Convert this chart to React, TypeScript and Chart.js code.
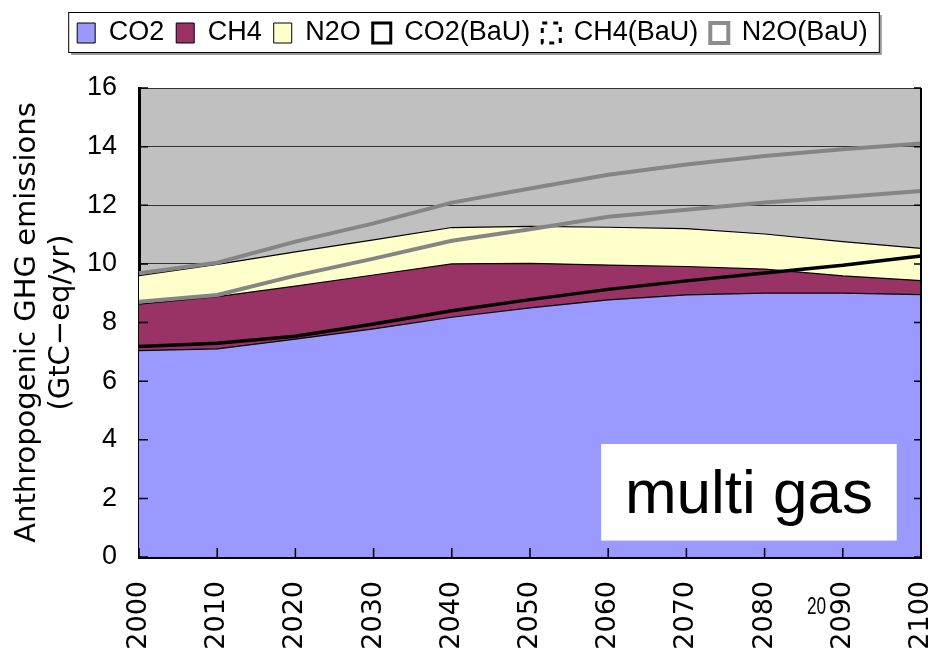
import React, { useEffect, useRef } from 'react';
import { Chart, registerables } from 'chart.js';

Chart.register(...registerables);

// ---- data ----
const years = ['2000', '2010', '2020', '2030', '2040', '2050', '2060', '2070', '2080', '2090', '2100'];
// multi-gas (policy) emissions, stacked areas (GtC-eq/yr)
const co2 = [7.04, 7.1, 7.43, 7.78, 8.18, 8.5, 8.77, 8.94, 9.0, 9.0, 8.95];
const ch4 = [1.59, 1.78, 1.81, 1.84, 1.82, 1.52, 1.19, 0.97, 0.82, 0.59, 0.48];
const n2o = [0.97, 1.1, 1.17, 1.2, 1.24, 1.26, 1.29, 1.29, 1.2, 1.17, 1.1];
// business-as-usual emissions, stacked lines (GtC-eq/yr)
const co2BaU = [7.18, 7.29, 7.53, 7.95, 8.4, 8.78, 9.13, 9.42, 9.69, 9.95, 10.27];
const ch4BaU = [1.53, 1.65, 2.07, 2.23, 2.39, 2.4, 2.48, 2.43, 2.4, 2.33, 2.22];
const n2oBaU = [0.97, 1.1, 1.16, 1.2, 1.3, 1.39, 1.43, 1.54, 1.59, 1.63, 1.62];
const yTicks = [0, 2, 4, 6, 8, 10, 12, 14, 16];
const seriesLabels = ['CO2', 'CH4', 'N2O', 'CO2(BaU)', 'CH4(BaU)', 'N2O(BaU)'];
const yTitle = ['Anthropogenic GHG emissions', '(GtC\u2212eq/yr)'];
const boxText = 'multi gas';
const pageNote = '20';

export default function App() {
  const ref = useRef<HTMLCanvasElement | null>(null);

  useEffect(() => {
    if (!ref.current) return;

    const legendFill = ['#9999FF', '#993366', '#FFFFCC', '#FFFFFF', '#FFFFFF', '#FFFFFF'];
    const legendStroke = ['#000', '#000', '#000', '#000', '#000', '#8C8C8C'];
    const legendLw = [1, 1, 1, 3, 3, 4];
    const legendDash: number[][] = [[], [], [], [], [5, 6], []];

    const bgPlugin = {
      id: 'plotBg',
      beforeDraw(chart: any) {
        const { ctx, chartArea: a } = chart;
        ctx.save();
        ctx.fillStyle = '#C0C0C0';
        ctx.fillRect(a.left, a.top, a.right - a.left, a.bottom - a.top);
        ctx.restore();
      },
    };

    const decorPlugin = {
      id: 'decor',
      afterDatasetsDraw(chart: any) {
        const { ctx, chartArea: a, scales } = chart;
        ctx.save();
        // inward tick marks
        ctx.strokeStyle = '#000';
        ctx.lineWidth = 1.5;
        ctx.beginPath();
        scales.y.ticks.forEach((t: any) => {
          const y = scales.y.getPixelForValue(t.value);
          ctx.moveTo(a.left, y);
          ctx.lineTo(a.left + 9, y);
          ctx.moveTo(a.right, y);
          ctx.lineTo(a.right - 7, y);
        });
        scales.x.ticks.forEach((_t: any, i: number) => {
          const x = scales.x.getPixelForTick(i);
          ctx.moveTo(x, a.bottom);
          ctx.lineTo(x, a.bottom - 9);
        });
        ctx.stroke();
        // right border
        ctx.lineWidth = 2;
        ctx.beginPath();
        ctx.moveTo(a.right, a.top);
        ctx.lineTo(a.right, a.bottom);
        ctx.stroke();
        // "multi gas" label box
        const w = a.right - a.left;
        const h = a.bottom - a.top;
        const bx = a.left + w * 0.591;
        const by = a.top + h * 0.759;
        const bw = w * 0.378;
        const bh = h * 0.206;
        ctx.fillStyle = '#FFFFFF';
        ctx.fillRect(bx, by, bw, bh);
        ctx.fillStyle = '#000';
        ctx.font = '62px "Liberation Sans", Arial, sans-serif';
        ctx.textAlign = 'center';
        ctx.textBaseline = 'alphabetic';
        ctx.fillText(boxText, bx + bw / 2, by + bh * 0.715);
        ctx.restore();
      },
      afterDraw(chart: any) {
        const { ctx } = chart;
        const lg = chart.legend;
        ctx.save();
        if (lg && lg.legendHitBoxes && lg.legendHitBoxes.length) {
          const hb = lg.legendHitBoxes;
          const first = hb[0];
          const last = hb[hb.length - 1];
          const left = first.left - 9;
          const right = last.left + last.width + 11;
          const top = first.top - 7.5;
          const bottom = first.top + first.height + 5.5;
          ctx.strokeStyle = '#9a9a9a';
          ctx.lineWidth = 2;
          ctx.beginPath();
          ctx.moveTo(left + 3, bottom + 2);
          ctx.lineTo(right + 2, bottom + 2);
          ctx.lineTo(right + 2, top + 3);
          ctx.stroke();
          ctx.strokeStyle = '#000';
          ctx.lineWidth = 1;
          ctx.strokeRect(left + 0.5, top + 0.5, right - left, bottom - top);
        }
        // stray page note
        ctx.fillStyle = '#000';
        ctx.font = '24px "Liberation Sans", Arial, sans-serif';
        ctx.textAlign = 'left';
        ctx.textBaseline = 'alphabetic';
        ctx.translate(807, 614);
        ctx.scale(0.72, 1);
        ctx.fillText(pageNote, 0, 0);
        ctx.restore();
      },
    };

    const areaCommon = {
      type: 'line' as const,
      borderColor: '#000',
      borderWidth: 1.2,
      pointRadius: 0,
      tension: 0,
      stack: 'policy',
      order: 1,
    };
    const bauCommon = {
      type: 'line' as const,
      pointRadius: 0,
      tension: 0,
      fill: false,
      stack: 'bau',
      order: 0,
    };

    const chart = new Chart(ref.current, {
      type: 'line',
      data: {
        labels: years,
        datasets: [
          { ...areaCommon, label: seriesLabels[0], data: co2, backgroundColor: '#9999FF', fill: 'origin' },
          { ...areaCommon, label: seriesLabels[1], data: ch4, backgroundColor: '#993366', fill: '-1' },
          { ...areaCommon, label: seriesLabels[2], data: n2o, backgroundColor: '#FFFFCC', fill: '-1' },
          { ...bauCommon, label: seriesLabels[3], data: co2BaU, borderColor: '#000', borderWidth: 3.5 },
          { ...bauCommon, label: seriesLabels[4], data: ch4BaU, borderColor: '#858585', borderWidth: 4 },
          { ...bauCommon, label: seriesLabels[5], data: n2oBaU, borderColor: '#858585', borderWidth: 4 },
        ] as any,
      },
      options: {
        animation: false,
        responsive: true,
        maintainAspectRatio: false,
        layout: { padding: { top: 7.5, left: 6, right: 0, bottom: 0 } },
        plugins: {
          tooltip: { enabled: false },
          title: {
            display: true,
            text: '',
            weight: 500,
            font: { size: 10, lineHeight: 1 },
            padding: { top: 21.5, bottom: 0 },
          } as any,
          legend: {
            display: true,
            position: 'top',
            labels: {
              color: '#000',
              font: { family: '"Liberation Sans", Arial, sans-serif', size: 27 },
              boxWidth: 18,
              boxHeight: 20,
              padding: 12,
              generateLabels: (c: any) =>
                c.data.datasets.map((ds: any, i: number) => ({
                  text: ds.label,
                  fillStyle: legendFill[i],
                  strokeStyle: legendStroke[i],
                  lineWidth: legendLw[i],
                  lineDash: legendDash[i],
                  hidden: false,
                  datasetIndex: i,
                  fontColor: '#000',
                })),
            },
          },
        },
        scales: {
          x: {
            type: 'category',
            offset: false,
            grid: { display: false, drawTicks: false },
            border: { display: true, color: '#000', width: 3 },
            ticks: {
              color: '#000',
              autoSkip: false,
              minRotation: 90,
              maxRotation: 90,
              padding: 24,
              font: { family: '"DejaVu Sans", sans-serif', size: 27 },
            },
            afterFit: (s: any) => {
              s.height = 105;
              s.paddingLeft = 0;
              s.paddingRight = 18;
            },
          },
          y: {
            stacked: true,
            min: 0,
            max: 16,
            afterBuildTicks: (s: any) => {
              s.ticks = yTicks.map((v) => ({ value: v }));
            },
            grid: { color: '#333', lineWidth: 1, drawTicks: false },
            border: { display: true, color: '#000', width: 3 },
            ticks: {
              color: '#000',
              padding: 22,
              font: { family: '"Liberation Sans", Arial, sans-serif', size: 27 },
            },
            title: {
              display: true,
              text: yTitle,
              color: '#000',
              font: { family: '"DejaVu Sans", sans-serif', size: 29, lineHeight: 1.17 },
              padding: { top: 5, bottom: 0 },
            },
            afterFit: (s: any) => {
              s.width = 133;
            },
          },
        },
      } as any,
      plugins: [bgPlugin, decorPlugin],
    });

    return () => chart.destroy();
  }, []);

  return (
    <div style={{ position: 'absolute', left: 0, top: 0, width: 939, height: 662, background: '#fff' }}>
      <canvas ref={ref} />
    </div>
  );
}
